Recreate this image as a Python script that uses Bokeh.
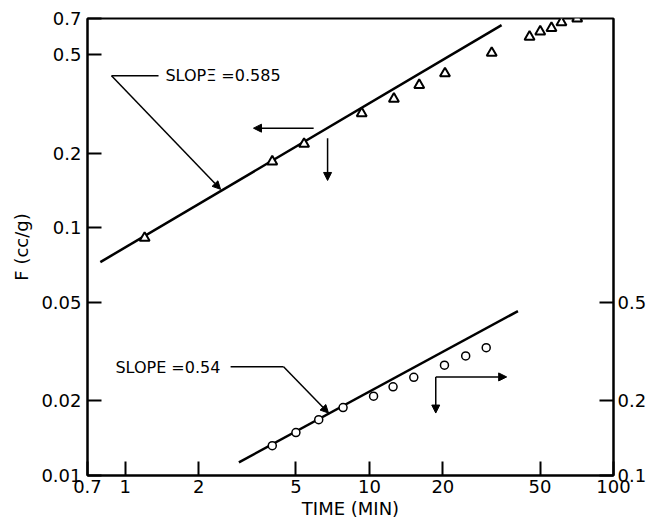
from bokeh.plotting import figure
from bokeh.models import (Range1d, LogAxis, LogScale, FixedTicker, Arrow,
                          NormalHead, Label, CustomJSTickFormatter)
from bokeh.embed import file_html
from bokeh.resources import INLINE

# ---------------- data ----------------
time_tri = [1.2, 4.0, 5.4, 9.3, 12.6, 16.0, 20.4, 31.7, 45.3, 50.1, 55.7, 61.2, 71.0]
f_tri = [0.091, 0.185, 0.218, 0.29, 0.332, 0.377, 0.42, 0.508, 0.59, 0.62, 0.64, 0.675, 0.70]

time_circ = [4.0, 5.0, 6.2, 7.8, 10.4, 12.5, 15.2, 20.3, 24.8, 30.1]
f_circ = [0.132, 0.149, 0.168, 0.188, 0.209, 0.228, 0.249, 0.279, 0.304, 0.328]  # right axis

fit_upper_x = [0.79, 34.8]
fit_upper_y = [0.0727, 0.658]
fit_lower_x = [2.92, 40.6]
fit_lower_y = [0.113, 0.461]  # right axis

x_ticks = [0.7, 1, 2, 5, 10, 20, 50, 100]
y_left_ticks = [0.01, 0.02, 0.05, 0.1, 0.2, 0.5, 0.7]
y_right_ticks = [0.1, 0.2, 0.5]

FONT = "DejaVu Sans"
FS = "16px"
TS = "18px"

p = figure(width=651, height=523, x_axis_type="log", y_axis_type="log",
           x_range=Range1d(0.7, 100), y_range=Range1d(0.01, 0.7),
           output_backend="svg", toolbar_location=None,
           min_border_left=87, min_border_right=38, min_border_top=18,
           min_border_bottom=48)
p.extra_y_ranges = {"right": Range1d(0.1, 7.0)}
p.extra_y_scales = {"right": LogScale()}

p.grid.visible = False
p.outline_line_color = "black"
p.outline_line_width = 2
p.background_fill_color = "white"
p.border_fill_color = "white"

fmt = CustomJSTickFormatter(code="return String(Math.round(tick*1000)/1000);")

def style_axis(ax):
    ax.major_tick_in = 14
    ax.major_tick_out = 0
    ax.minor_tick_in = 0
    ax.minor_tick_out = 0
    ax.axis_line_width = 2
    ax.major_tick_line_width = 2
    ax.axis_line_color = "black"
    ax.major_tick_line_color = "black"
    ax.major_label_text_font = FONT
    ax.major_label_text_font_size = TS
    ax.major_label_text_color = "black"
    ax.axis_label_text_font = FONT
    ax.axis_label_text_font_size = TS
    ax.axis_label_text_font_style = "normal"
    ax.axis_label_text_color = "black"
    ax.formatter = fmt

xa = p.xaxis[0]
xa.ticker = FixedTicker(ticks=x_ticks)
xa.axis_label = "TIME (MIN)"
style_axis(xa)
xa.major_label_standoff = 4
xa.axis_label_standoff = 2

ya = p.yaxis[0]
ya.ticker = FixedTicker(ticks=y_left_ticks)
ya.axis_label = "F (cc/g)"
style_axis(ya)
ya.major_label_standoff = 6
ya.axis_label_standoff = 6

ra = LogAxis(y_range_name="right", ticker=FixedTicker(ticks=y_right_ticks))
style_axis(ra)
ra.major_label_standoff = 4
p.add_layout(ra, "right")

# fitted lines
p.line(fit_upper_x, fit_upper_y, line_color="black", line_width=2.5)
p.line(fit_lower_x, fit_lower_y, y_range_name="right", line_color="black", line_width=2.5)

# data points
p.scatter(time_tri, f_tri, marker="triangle", size=10, line_color="black",
          line_width=2, fill_color="white")
p.scatter(time_circ, f_circ, y_range_name="right", marker="circle", size=8,
          line_color="black", line_width=1.5, fill_color="white")

def arrow(x0, y0, x1, y1, head=True, lw=1.5):
    p.add_layout(Arrow(end=NormalHead(size=8, line_color="black", fill_color="black")
                       if head else None,
                       x_start=x0, y_start=y0, x_end=x1, y_end=y1,
                       line_color="black", line_width=lw))

# upper annotation
p.add_layout(Label(x=1.46, y=0.411, text="SLOPΞ =0.585", text_baseline="middle",
                   text_font=FONT, text_font_size=FS, text_color="black"))
arrow(1.368, 0.411, 0.878, 0.411, head=False)
arrow(0.878, 0.411, 2.456, 0.143)
arrow(5.91, 0.2525, 3.35, 0.2525)
arrow(6.74, 0.230, 6.74, 0.1553)

# lower annotation (left-axis units)
p.add_layout(Label(x=0.911, y=0.02723, text="SLOPE =0.54", text_baseline="middle",
                   text_font=FONT, text_font_size=FS, text_color="black"))
arrow(2.70, 0.02749, 4.45, 0.02749, head=False)
arrow(4.45, 0.02749, 6.80, 0.01787)
arrow(18.7, 0.025, 36.5, 0.025)
arrow(18.7, 0.025, 18.7, 0.01787)

open("out.html", "w").write(file_html(p, INLINE))
